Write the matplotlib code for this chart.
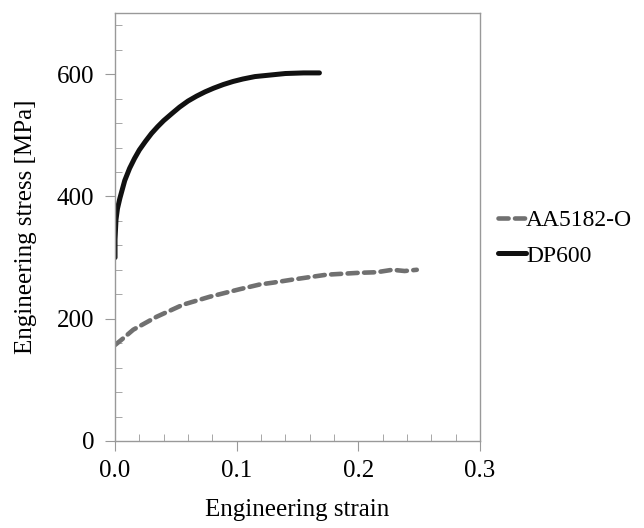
import numpy as np
import matplotlib
matplotlib.use("Agg")
import matplotlib.pyplot as plt
from matplotlib.ticker import MultipleLocator

plt.rcParams['font.family'] = ['Liberation Serif', 'DejaVu Serif']

# DP600
dp_strain = [0.0, 0.0, 0.0008, 0.002, 0.004, 0.008, 0.012, 0.016, 0.02, 0.025,
             0.03, 0.035, 0.04, 0.047, 0.053, 0.06, 0.067, 0.074, 0.081, 0.089,
             0.097, 0.105, 0.115, 0.125, 0.14, 0.155, 0.168]
dp_stress = [300, 330, 362, 380, 397, 426, 446, 462, 476, 490,
             503, 514, 524, 536, 546, 556, 564, 571, 577, 583,
             588, 592, 596, 598, 601, 602, 602]

# AA5182-O
aa_strain = [0.0, 0.005, 0.015, 0.034, 0.056, 0.078, 0.102, 0.119, 0.13, 0.146,
             0.174, 0.2, 0.215, 0.228, 0.238, 0.248]
aa_stress = [157, 165, 182, 203, 223, 236, 248, 256, 259, 264,
             272, 275, 276, 280, 278, 280]

fig = plt.figure(figsize=(6.44, 5.28), dpi=100)
ax = fig.add_axes([0.1786, 0.1648, 0.5668, 0.8106])

ax.plot(aa_strain, aa_stress, color='#707070', lw=3.3, ls=(0, (2.2, 1.4)),
        dash_capstyle='round', label='AA5182-O')
ax.plot(dp_strain, dp_stress, color='#111111', lw=3.6, solid_capstyle='round',
        label='DP600')

ax.set_xlim(0, 0.3)
ax.set_ylim(0, 700)
ax.xaxis.set_major_locator(MultipleLocator(0.1))
ax.xaxis.set_minor_locator(MultipleLocator(0.02))
ax.yaxis.set_major_locator(MultipleLocator(200))
ax.yaxis.set_minor_locator(MultipleLocator(40))
ax.xaxis.set_major_formatter(matplotlib.ticker.FormatStrFormatter('%.1f'))

for s in ax.spines.values():
    s.set_color('#999999')
    s.set_linewidth(1.0)
ax.tick_params(which='major', direction='out', length=7, color='#999999',
               labelsize=18, pad=8)
ax.tick_params(which='minor', direction='in', length=5, color='#999999')
ax.tick_params(axis='x', which='major', pad=7)

ax.set_xlabel('Engineering strain', fontsize=18, labelpad=12)
ax.set_ylabel('Engineering stress [MPa]', fontsize=18, labelpad=14)

fig.legend(loc='center left', bbox_to_anchor=(0.758, 0.549), frameon=False,
           fontsize=17, handlelength=1.2, handletextpad=0.0, labelspacing=0.6,
           borderaxespad=0)

fig.savefig('out.png', dpi=100)
